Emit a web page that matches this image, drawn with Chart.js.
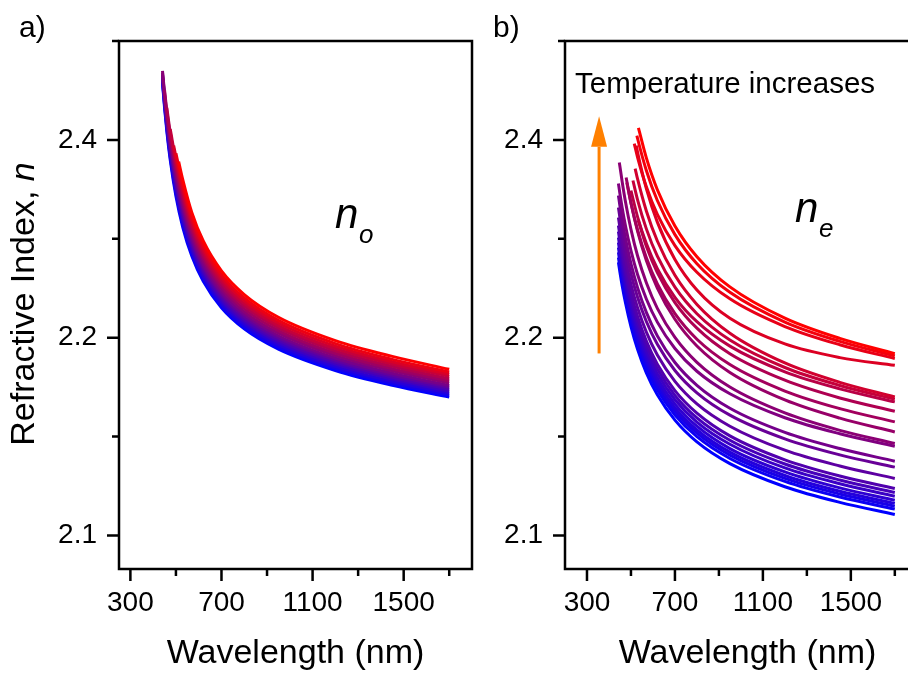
<!DOCTYPE html>
<html>
<head>
<meta charset="utf-8">
<script src="https://cdn.jsdelivr.net/npm/chart.js@4.4.0/dist/chart.umd.min.js"></script>
<style>
  html, body { margin: 0; padding: 0; background: #fff; width: 908px; height: 678px; overflow: hidden; }
  #left { position: absolute; left: 0; top: 0; }
  #right { position: absolute; left: 480px; top: 0; }
</style>
</head>
<body>
<canvas id="left" width="480" height="678"></canvas>
<canvas id="right" width="472" height="678"></canvas>
<script>
// ordinary index n_o, coolest (blue) -> hottest (red); [wavelength nm, n]
const no01 = [[441,2.4577],[450,2.4327],[460,2.4086],[475,2.3795],[500,2.3429],[530,2.3116],[570,2.2822],[620,2.2569],[700,2.2302],[800,2.2089],[950,2.1942],[1200,2.1834],[1450,2.1759],[1700,2.1699]];
const no02 = [[441,2.4594],[450,2.4348],[460,2.4112],[475,2.3825],[500,2.3463],[530,2.3150],[570,2.2853],[620,2.2598],[700,2.2328],[800,2.2113],[950,2.1953],[1200,2.1845],[1450,2.1769],[1700,2.1709]];
const no03 = [[441,2.4611],[450,2.4369],[460,2.4137],[475,2.3854],[500,2.3497],[530,2.3184],[570,2.2884],[620,2.2626],[700,2.2354],[800,2.2138],[950,2.1965],[1200,2.1855],[1450,2.1779],[1700,2.1719]];
const no04 = [[441,2.4628],[450,2.4391],[460,2.4162],[475,2.3884],[500,2.3531],[530,2.3217],[570,2.2915],[620,2.2655],[700,2.2380],[800,2.2162],[950,2.1976],[1200,2.1866],[1450,2.1790],[1700,2.1729]];
const no05 = [[441,2.4645],[450,2.4412],[460,2.4188],[475,2.3914],[500,2.3565],[530,2.3251],[570,2.2946],[620,2.2683],[700,2.2406],[800,2.2186],[950,2.1987],[1200,2.1876],[1450,2.1800],[1700,2.1739]];
const no06 = [[441,2.4662],[450,2.4433],[460,2.4213],[475,2.3944],[500,2.3599],[530,2.3285],[570,2.2977],[620,2.2712],[700,2.2432],[800,2.2210],[950,2.1998],[1200,2.1887],[1450,2.1810],[1700,2.1749]];
const no07 = [[441,2.4679],[450,2.4454],[460,2.4239],[475,2.3973],[500,2.3633],[530,2.3319],[570,2.3008],[620,2.2740],[700,2.2459],[800,2.2235],[950,2.2019],[1200,2.1897],[1450,2.1820],[1700,2.1758]];
const no08 = [[441,2.4698],[450,2.4479],[460,2.4268],[475,2.4007],[500,2.3671],[530,2.3357],[570,2.3043],[620,2.2773],[700,2.2488],[800,2.2262],[950,2.2045],[1200,2.1909],[1450,2.1832],[1700,2.1770]];
const no09 = [[450,2.4503],[460,2.4297],[475,2.4041],[500,2.3710],[530,2.3396],[570,2.3079],[620,2.2806],[700,2.2518],[800,2.2290],[950,2.2071],[1200,2.1921],[1450,2.1843],[1700,2.1781]];
const no10 = [[460,2.4326],[475,2.4075],[500,2.3749],[530,2.3435],[570,2.3114],[620,2.2838],[700,2.2548],[800,2.2318],[950,2.2097],[1200,2.1933],[1450,2.1855],[1700,2.1792]];
const no11 = [[475,2.4109],[500,2.3788],[530,2.3473],[570,2.3149],[620,2.2871],[700,2.2578],[800,2.2345],[950,2.2122],[1200,2.1945],[1450,2.1867],[1700,2.1804]];
const no12 = [[490,2.3943],[500,2.3827],[530,2.3512],[570,2.3185],[620,2.2904],[700,2.2608],[800,2.2373],[950,2.2148],[1200,2.1957],[1450,2.1878],[1700,2.1815]];
const no13 = [[500,2.3865],[530,2.3551],[570,2.3220],[620,2.2936],[700,2.2637],[800,2.2401],[950,2.2174],[1200,2.1970],[1450,2.1890],[1700,2.1826]];
const no14 = [[512,2.3780],[530,2.3599],[570,2.3264],[620,2.2977],[700,2.2675],[800,2.2436],[950,2.2206],[1200,2.1985],[1450,2.1905],[1700,2.1840]];

// extraordinary index n_e
const ne01 = [[443,2.2761],[450,2.2659],[460,2.2526],[475,2.2353],[500,2.2111],[530,2.1941],[570,2.1822],[620,2.1711],[700,2.1583],[800,2.1473],[950,2.1363],[1200,2.1246],[1450,2.1167],[1700,2.1106]];
const ne02 = [[443,2.2811],[450,2.2709],[460,2.2577],[475,2.2404],[500,2.2163],[530,2.1967],[570,2.1848],[620,2.1736],[700,2.1609],[800,2.1499],[950,2.1389],[1200,2.1273],[1450,2.1194],[1700,2.1133]];
const ne03 = [[443,2.2862],[450,2.2760],[460,2.2625],[475,2.2451],[500,2.2208],[530,2.1988],[570,2.1869],[620,2.1756],[700,2.1628],[800,2.1517],[950,2.1406],[1200,2.1288],[1450,2.1209],[1700,2.1148]];
const ne04 = [[443,2.2912],[450,2.2808],[460,2.2674],[475,2.2497],[500,2.2252],[530,2.2018],[570,2.1888],[620,2.1775],[700,2.1644],[800,2.1533],[950,2.1421],[1200,2.1303],[1450,2.1223],[1700,2.1162]];
const ne05 = [[443,2.2963],[450,2.2858],[460,2.2722],[475,2.2544],[500,2.2297],[530,2.2062],[570,2.1910],[620,2.1795],[700,2.1664],[800,2.1552],[950,2.1439],[1200,2.1321],[1450,2.1240],[1700,2.1178]];
const ne06 = [[443,2.3013],[450,2.2908],[460,2.2772],[475,2.2593],[500,2.2345],[530,2.2109],[570,2.1932],[620,2.1817],[700,2.1686],[800,2.1573],[950,2.1461],[1200,2.1341],[1450,2.1261],[1700,2.1198]];
const ne07 = [[443,2.3074],[450,2.2967],[460,2.2830],[475,2.2649],[500,2.2399],[530,2.2161],[570,2.1957],[620,2.1841],[700,2.1708],[800,2.1594],[950,2.1481],[1200,2.1361],[1450,2.1280],[1700,2.1217]];
const ne08 = [[443,2.3134],[450,2.3027],[460,2.2889],[475,2.2706],[500,2.2455],[530,2.2213],[570,2.1982],[620,2.1865],[700,2.1732],[800,2.1618],[950,2.1503],[1200,2.1382],[1450,2.1300],[1700,2.1237]];
const ne09 = [[443,2.3215],[450,2.3108],[460,2.2972],[475,2.2791],[500,2.2540],[530,2.2302],[570,2.2056],[620,2.1912],[700,2.1779],[800,2.1665],[950,2.1552],[1200,2.1431],[1450,2.1351],[1700,2.1288]];
const ne10 = [[443,2.3316],[450,2.3210],[460,2.3074],[475,2.2895],[500,2.2645],[530,2.2408],[570,2.2163],[620,2.1966],[700,2.1834],[800,2.1721],[950,2.1608],[1200,2.1488],[1450,2.1407],[1700,2.1345]];
const ne11 = [[443,2.3437],[450,2.3329],[460,2.3189],[475,2.3004],[500,2.2749],[530,2.2506],[570,2.2255],[620,2.2018],[700,2.1874],[800,2.1759],[950,2.1643],[1200,2.1521],[1450,2.1439],[1700,2.1375]];
const ne12 = [[443,2.3559],[450,2.3452],[460,2.3313],[475,2.3131],[500,2.2879],[530,2.2638],[570,2.2391],[620,2.2157],[700,2.1945],[800,2.1830],[950,2.1716],[1200,2.1595],[1450,2.1514],[1700,2.1451]];
const ne13 = [[447,2.3771],[450,2.3729],[460,2.3576],[475,2.3374],[500,2.3095],[530,2.2828],[570,2.2555],[620,2.2296],[700,2.2002],[800,2.1875],[950,2.1750],[1200,2.1619],[1450,2.1531],[1700,2.1465]];
const ne14 = [[478,2.3619],[500,2.3362],[530,2.3076],[570,2.2780],[620,2.2502],[700,2.2186],[800,2.1958],[950,2.1824],[1200,2.1685],[1450,2.1593],[1700,2.1523]];
const ne15 = [[481,2.3569],[500,2.3363],[530,2.3090],[570,2.2808],[620,2.2543],[700,2.2242],[800,2.1992],[950,2.1864],[1200,2.1730],[1450,2.1641],[1700,2.1574]];
const ne16 = [[533,2.3185],[570,2.2924],[620,2.2658],[700,2.2355],[800,2.2096],[950,2.1919],[1200,2.1785],[1450,2.1695],[1700,2.1628]];
const ne17 = [[500,2.3488],[530,2.3222],[570,2.2952],[620,2.2698],[700,2.2408],[800,2.2161],[950,2.1957],[1200,2.1827],[1450,2.1741],[1700,2.1675]];
const ne18 = [[509,2.3589],[530,2.3394],[570,2.3100],[620,2.2824],[700,2.2510],[800,2.2242],[950,2.1988],[1200,2.1849],[1450,2.1758],[1700,2.1688]];
const ne19 = [[519,2.3710],[530,2.3605],[570,2.3281],[620,2.2977],[700,2.2630],[800,2.2336],[950,2.2045],[1200,2.1872],[1450,2.1774],[1700,2.1700]];
const ne20 = [[524,2.3942],[530,2.3875],[570,2.3507],[620,2.3168],[700,2.2791],[800,2.2482],[950,2.2196],[1200,2.1968],[1450,2.1899],[1700,2.1860]];
const ne21 = [[515,2.3963],[530,2.3824],[570,2.3526],[620,2.3247],[700,2.2931],[800,2.2661],[950,2.2392],[1200,2.2112],[1450,2.1964],[1700,2.1894]];
const ne22 = [[527,2.4043],[530,2.4014],[570,2.3691],[620,2.3387],[700,2.3042],[800,2.2748],[950,2.2459],[1200,2.2158],[1450,2.1981],[1700,2.1907]];
const ne23 = [[534,2.4121],[570,2.3818],[620,2.3496],[700,2.3130],[800,2.2819],[950,2.2513],[1200,2.2197],[1450,2.1996],[1700,2.1919]];

const ordinary = [no01, no02, no03, no04, no05, no06, no07, no08, no09, no10, no11, no12, no13, no14];
const extraordinary = [ne01, ne02, ne03, ne04, ne05, ne06, ne07, ne08, ne09, ne10, ne11, ne12,
                       ne13, ne14, ne15, ne16, ne17, ne18, ne19, ne20, ne21, ne22, ne23];

const xMajor = [300, 700, 1100, 1500];
const xMinor = [500, 900, 1300, 1700];
const yMajor = [2.1, 2.2, 2.4];
const yMinor = [2.15, 2.3, 2.5];

// orange arrow in panel b: wavelength, start n, head base n, tip n
const arrowWl = 355;
const arrowN = [2.192, 2.393, 2.424];

const FONT = 'Arial, "Liberation Sans", sans-serif';
Chart.defaults.font.family = FONT;
Chart.defaults.color = '#000';

// the figure's y axis is not linear: 2.1->2.2 gets as much room as 2.2->2.4
const squash = v => v <= 2.2 ? v : 2.2 + (v - 2.2) / 2;
const unsquash = v => v <= 2.2 ? v : 2.2 + (v - 2.2) * 2;

class SplitScale extends Chart.LinearScale {
  getPixelForValue(value) {
    const lo = squash(this.min), hi = squash(this.max);
    return this.getPixelForDecimal((squash(value) - lo) / (hi - lo));
  }
  getValueForPixel(pixel) {
    const lo = squash(this.min), hi = squash(this.max);
    return unsquash(lo + this.getDecimalForPixel(pixel) * (hi - lo));
  }
}
SplitScale.id = 'split';
SplitScale.defaults = Chart.LinearScale.defaults;
Chart.register(SplitScale);

function makeSets(curves) {
  const n = curves.length;
  return curves.map((pts, i) => {
    const t = i / (n - 1);
    const col = `rgb(${Math.round(255 * t)},0,${Math.round(255 * (1 - t))})`;
    return {
      data: pts.map(p => ({ x: p[0], y: p[1] })),
      borderColor: col,
      borderWidth: 3,
      pointRadius: 0,
      fill: false,
      cubicInterpolationMode: 'monotone'
    };
  }).reverse(); // hot curves on top
}

const deco = {
  id: 'deco',
  afterDraw(chart, args, o) {
    const { ctx, chartArea: a, scales: { x, y } } = chart;
    ctx.save();
    ctx.strokeStyle = '#000';
    ctx.lineWidth = 2.5;
    ctx.strokeRect(a.left, a.top, a.right - a.left, a.bottom - a.top);
    ctx.beginPath();
    xMajor.forEach(v => { const p = x.getPixelForValue(v); ctx.moveTo(p, a.bottom); ctx.lineTo(p, a.bottom + 12); });
    xMinor.forEach(v => { const p = x.getPixelForValue(v); ctx.moveTo(p, a.bottom); ctx.lineTo(p, a.bottom + 7); });
    yMajor.forEach(v => { const p = y.getPixelForValue(v); ctx.moveTo(a.left, p); ctx.lineTo(a.left - 12, p); });
    yMinor.forEach(v => { const p = y.getPixelForValue(v); ctx.moveTo(a.left, p); ctx.lineTo(a.left - 7, p); });
    ctx.stroke();

    ctx.fillStyle = '#000';
    ctx.textAlign = 'left';
    ctx.textBaseline = 'alphabetic';
    ctx.font = '30px ' + FONT;
    ctx.fillText(o.tag, o.tagX, 37);

    ctx.font = 'italic 42px ' + FONT;
    ctx.fillText('n', o.symX, o.symY);
    ctx.font = 'italic 26px ' + FONT;
    ctx.fillText(o.sub, o.symX + 24, o.symY + 15);

    if (o.yTitle) {
      ctx.save();
      ctx.translate(25, 304);
      ctx.rotate(-Math.PI / 2);
      ctx.textBaseline = 'middle';
      ctx.font = '34px ' + FONT;
      const s1 = 'Refractive Index, ';
      const w1 = ctx.measureText(s1).width;
      ctx.font = 'italic 34px ' + FONT;
      const w2 = ctx.measureText('n').width;
      const x0 = -(w1 + w2) / 2;
      ctx.font = '34px ' + FONT;
      ctx.fillText(s1, x0, 0);
      ctx.font = 'italic 34px ' + FONT;
      ctx.fillText('n', x0 + w1, 0);
      ctx.restore();
    }

    if (o.arrow) {
      ctx.font = '29.5px ' + FONT;
      ctx.fillText('Temperature increases', 95, 93);
      const ax = x.getPixelForValue(arrowWl);
      const y0 = y.getPixelForValue(arrowN[0]);
      const yb = y.getPixelForValue(arrowN[1]);
      const yt = y.getPixelForValue(arrowN[2]);
      ctx.strokeStyle = '#ff8000';
      ctx.fillStyle = '#ff8000';
      ctx.lineWidth = 3;
      ctx.beginPath();
      ctx.moveTo(ax, y0);
      ctx.lineTo(ax, yb);
      ctx.stroke();
      ctx.beginPath();
      ctx.moveTo(ax, yt);
      ctx.lineTo(ax + 8, yb);
      ctx.lineTo(ax - 8, yb);
      ctx.closePath();
      ctx.fill();
    }
    ctx.restore();
  }
};

function panelOptions(xmin, xmax, yWidth, rightPad, decoOpts) {
  return {
    responsive: false,
    animation: false,
    devicePixelRatio: 1,
    layout: { padding: { left: 0, right: rightPad, top: 41, bottom: 0 } },
    plugins: { legend: { display: false }, tooltip: { enabled: false }, deco: decoOpts },
    scales: {
      x: {
        type: 'linear', min: xmin, max: xmax,
        afterBuildTicks: s => { s.ticks = xMajor.map(v => ({ value: v })); },
        afterFit: s => { s.height = 109; },
        grid: { display: false, drawTicks: false },
        border: { display: false },
        ticks: { padding: 17, font: { size: 28 }, maxRotation: 0, autoSkip: false, callback: v => String(v) },
        title: { display: true, text: 'Wavelength (nm)', font: { size: 34 }, padding: { top: 0, bottom: 4 } }
      },
      y: {
        type: 'split', min: 2.083, max: 2.5,
        afterBuildTicks: s => { s.ticks = yMajor.map(v => ({ value: v })); },
        afterFit: s => { s.width = yWidth; },
        grid: { display: false, drawTicks: false },
        border: { display: false },
        ticks: { padding: 22, font: { size: 28 }, autoSkip: false, callback: v => v.toFixed(1) }
      }
    }
  };
}

new Chart(document.getElementById('left'), {
  type: 'line',
  data: { datasets: makeSets(ordinary) },
  options: panelOptions(250, 1800, 119, 8, { tag: 'a)', tagX: 19, symX: 335, symY: 228, sub: 'o', yTitle: true }),
  plugins: [deco]
});

new Chart(document.getElementById('right'), {
  type: 'line',
  data: { datasets: makeSets(extraordinary) },
  options: panelOptions(200, 1860, 85, 22, { tag: 'b)', tagX: 13, symX: 315, symY: 222, sub: 'e', arrow: true }),
  plugins: [deco]
});
</script>
</body>
</html>
